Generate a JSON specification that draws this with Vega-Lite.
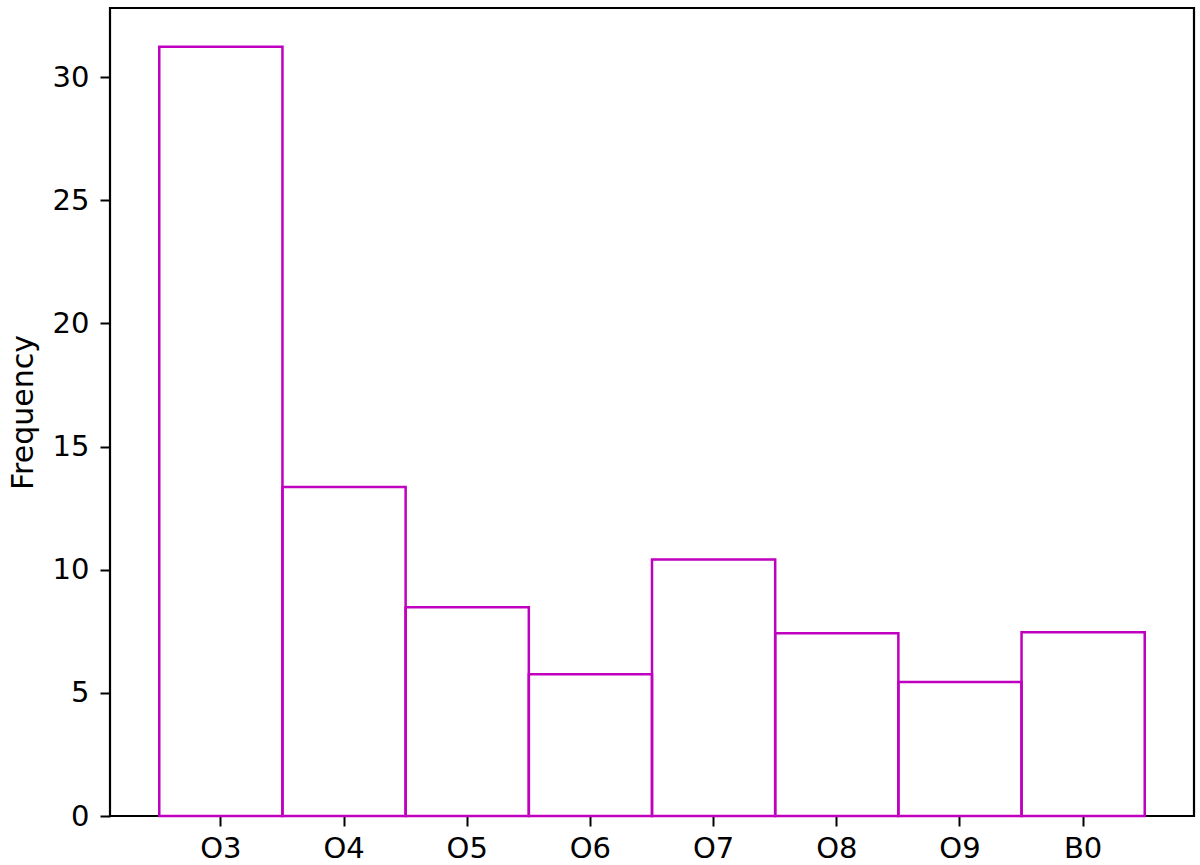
{
  "$schema": "https://vega.github.io/schema/vega-lite/v6.json",
  "width": 1084,
  "height": 808,
  "autosize": "none",
  "padding": {"left": 110, "top": 8, "right": 6, "bottom": 49},
  "background": "white",
  "data": {
    "values": [
      {"type": "O3", "freq": 31.24},
      {"type": "O4", "freq": 13.36},
      {"type": "O5", "freq": 8.48},
      {"type": "O6", "freq": 5.76},
      {"type": "O7", "freq": 10.42},
      {"type": "O8", "freq": 7.42},
      {"type": "O9", "freq": 5.44},
      {"type": "B0", "freq": 7.46}
    ]
  },
  "mark": {"type": "bar", "fill": null, "fillOpacity": 0, "stroke": "#bf00bf", "strokeWidth": 2.5},
  "encoding": {
    "x": {
      "field": "type",
      "type": "nominal",
      "sort": null,
      "scale": {"paddingInner": 0, "paddingOuter": 0.4},
      "axis": {"title": null, "labelAngle": 0, "labelFontSize": 29, "labelFont": "DejaVu Sans", "labelColor": "black", "labelPadding": 8, "tickSize": 10, "tickWidth": 2, "tickColor": "black", "domain": false, "grid": false}
    },
    "y": {
      "field": "freq",
      "type": "quantitative",
      "scale": {"domain": [0, 32.81], "nice": false, "zero": true},
      "axis": {"title": "Frequency", "values": [0, 5, 10, 15, 20, 25, 30], "titlePadding": 14, "titleFontSize": 30, "titleFont": "DejaVu Sans", "titleFontWeight": "normal", "titleColor": "black", "labelFontSize": 29, "labelFont": "DejaVu Sans", "labelColor": "black", "labelPadding": 11, "tickSize": 10, "tickWidth": 2, "tickColor": "black", "domain": false, "grid": false}
    }
  },
  "config": {
    "font": "DejaVu Sans",
    "view": {"stroke": "black", "strokeWidth": 2.2}
  }
}
